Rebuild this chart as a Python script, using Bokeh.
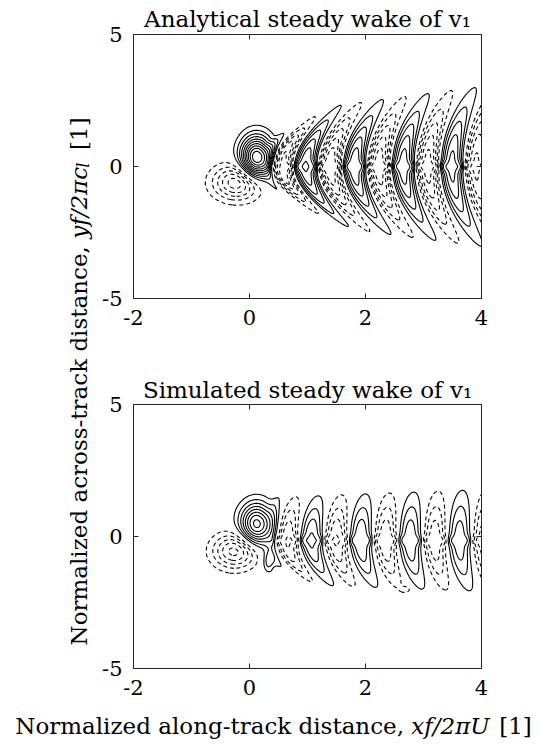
import numpy as np
from bokeh.plotting import figure
from bokeh.models import Range1d, FixedTicker, LinearAxis, Label
from bokeh.layouts import row, column
from bokeh.embed import file_html
from bokeh.resources import INLINE

# ---------------- axes ----------------
x_ticks = [-2, 0, 2, 4]
y_ticks = [-5, 0, 5]
x_tick_labels = ["-2", "0", "2", "4"]
y_tick_labels = ["-5", "0", "5"]
x_limits = [-2, 4]
y_limits = [-5, 5]

panel_titles = ["Analytical steady wake of v\u2081", "Simulated steady wake of v\u2081"]
x_label_parts = ["Normalized along-track distance,", "xf/2πU", "[1]"]
y_label_parts = ["Normalized across-track distance,", "yf/2πc", "l", "[1]"]

# ---------------- contour levels of v1 (normalised) ----------------
pos_levels = [0.1, 0.2, 0.3, 0.4, 0.5, 0.6, 0.7, 0.8, 0.9, 1.0]
neg_levels = [-1.0, -0.9, -0.8, -0.7, -0.6, -0.5, -0.4, -0.3, -0.2, -0.1]

# ---------------- wake description: [analytical, simulated] ----------------
core_amp = [1.12, 0.85]
core_x = [0.12, 0.12]
core_y = [0.32, 0.46]
core_sx = [0.27, 0.28]
core_sy = [0.80, 0.78]
trough_amp = [-0.60, -0.55]
trough_x = [-0.20, -0.25]
trough_y = [-0.60, -0.55]
trough_sx = [0.42, 0.38]
trough_sy = [0.65, 0.65]
wave_amp = [0.64, 0.44]
crest0 = [0.13, 0.22]
wavelength = [0.84, 0.85]
slope_top = [1.7, 3.0]
slope_bot = [1.5, 1.64]
apex_shift = [0.30, 0.30]
wave_y0 = [0.0, -0.15]
env_w0 = [1.35, 1.30]
env_w1 = [0.25, 0.10]
onset = [0.35, 0.40]
decay = [0.05, 0.05]
band_w = [0.20, 0.20]
sharp = [2.0, 2.0]
# secondary patches of the simulated field: (amp, x, y, sx, sy)
patch_amp = [[], [0.28, -0.14]]
patch_x = [[], [0.33, 2.70]]
patch_y = [[], [-0.95, -2.00]]
patch_sx = [[], [0.10, 0.08]]
patch_sy = [[], [0.40, 0.10]]

xs = np.linspace(x_limits[0], x_limits[1], 361)
ys = np.linspace(y_limits[0], y_limits[1], 401)
X, Y = np.meshgrid(xs, ys)


def gauss(a, x0, y0, sx, sy):
    return a * np.exp(-((X - x0) / sx) ** 2 - ((Y - y0) / sy) ** 2)


def wake(i):
    Z = gauss(core_amp[i], core_x[i], core_y[i], core_sx[i], core_sy[i])
    Z = Z + gauss(trough_amp[i], trough_x[i], trough_y[i], trough_sx[i], trough_sy[i])
    for a, x0, y0, sx, sy in zip(patch_amp[i], patch_x[i], patch_y[i],
                                 patch_sx[i], patch_sy[i]):
        Z = Z + gauss(a, x0, y0, sx, sy)
    Yc = Y - wave_y0[i]
    m = np.where(Yc > 0, slope_top[i], slope_bot[i])
    s = apex_shift[i]
    R = np.sqrt(np.clip((X + s) ** 2 - (Yc / m) ** 2, 0, None)) - s
    c = np.cos(2 * np.pi * (R - crest0[i]) / wavelength[i])
    k = sharp[i]
    band = np.exp(-(Yc / band_w[i]) ** 2)
    c = c + band * (np.tanh(k * c) / np.tanh(k) - c)
    xp = np.clip(X, 0, None)
    width = env_w0[i] + env_w1[i] * xp
    env = wave_amp[i] * np.exp(-(Yc / width) ** 2) * np.exp(-decay[i] * xp)
    env = env * 0.5 * (1 + np.tanh((X - onset[i]) / 0.12))
    env = env * np.clip((m * (X + s) - np.abs(Yc)) / 0.8, 0, 1)
    return Z + env * c


FONT = "DejaVu Serif"
LABEL_SIZE = 23
TICK_SIZE = 21
AXIS_COLOR = "#262626"
BASELINE_FIX = 10  # lift applied to alphabetic-baseline labels

# approximate advance widths (em) of the serif face, for joining text runs
EM = {' ': .318, 'A': .722, 'N': .765, 'S': .667, 'U': .76, 'a': .596, 'c': .559,
      'd': .64, 'e': .592, 'f': .37, 'g': .64, 'h': .642, 'i': .321, 'k': .6,
      'l': .321, 'm': .964, 'n': .642, 'o': .603, 'r': .48, 's': .514, 't': .403,
      'u': .642, 'v': .57, 'w': .825, 'x': .57, 'y': .57, 'z': .536, ',': .318,
      '-': .338, '/': .337, '1': .636, '2': .636, 'π': .6, '[': .39, ']': .39}


def text_width(s, size):
    return sum(EM.get(ch, 0.6) for ch in s) * size


def place_text(fig, parts, cx, cy, angle=0.0):
    """parts: (text, style, size, gap_before_em, baseline_drop_px)."""
    widths = [text_width(t, sz) for t, st, sz, g, d in parts]
    gaps = [g * LABEL_SIZE for t, st, sz, g, d in parts]
    total = sum(widths) + sum(gaps)
    along0 = (cx if angle == 0 else cy) - total / 2
    pos = along0 + widths[0]
    for j, (t, st, sz, g, d) in enumerate(parts):
        if j > 0:
            pos += gaps[j]
        align = "right" if j == 0 else "left"
        if angle == 0:
            x, y = pos, cy - d + BASELINE_FIX
        else:
            x, y = cx + d - BASELINE_FIX, pos
        fig.add_layout(Label(x=x, y=y, x_units="screen", y_units="screen", text=t,
                             text_font=FONT, text_font_size=f"{sz}px",
                             text_font_style=st, text_align=align,
                             text_baseline="alphabetic", text_color="black",
                             angle=angle))
        if j > 0:
            pos += widths[j]


def style_axis(ax, ticks, labels, show_labels=True):
    ax.ticker = FixedTicker(ticks=ticks)
    ax.major_label_overrides = {t: l for t, l in zip(ticks, labels)}
    ax.major_tick_in = 5
    ax.major_tick_out = 0
    ax.minor_tick_line_color = None
    ax.axis_line_color = AXIS_COLOR
    ax.major_tick_line_color = AXIS_COLOR
    ax.major_label_text_font = FONT
    ax.major_label_text_color = "black"
    if show_labels:
        ax.major_label_text_font_size = f"{TICK_SIZE}px"
        ax.major_label_standoff = 11
    else:
        ax.major_label_text_font_size = "2px"
        ax.major_label_text_alpha = 0
        ax.major_label_standoff = 0


def blank(width, height):
    f = figure(width=width, height=height, output_backend="svg",
               toolbar_location=None, min_border=0,
               x_range=Range1d(0, 1), y_range=Range1d(0, 1))
    f.axis.visible = False
    f.grid.visible = False
    f.outline_line_color = None
    return f


FRAME_W, FRAME_H = 348, 264
BORDER_L = 38


def panel(i, height, border_top, title_standoff):
    p = figure(width=452, height=height,
               x_range=Range1d(*x_limits), y_range=Range1d(*y_limits),
               output_backend="svg", toolbar_location=None,
               min_border_left=BORDER_L, min_border_right=452 - BORDER_L - FRAME_W,
               min_border_top=border_top,
               min_border_bottom=height - border_top - FRAME_H,
               title=panel_titles[i])
    p.title.text_font = FONT
    p.title.text_font_size = f"{LABEL_SIZE}px"
    p.title.text_font_style = "normal"
    p.title.text_color = "black"
    p.title.align = "center"
    p.title.standoff = title_standoff
    p.grid.visible = False
    p.outline_line_color = AXIS_COLOR
    p.background_fill_color = "white"
    p.border_fill_color = "white"
    Z = wake(i)
    p.contour(xs, ys, Z, levels=pos_levels, line_color="black", line_width=1.1)
    p.contour(xs, ys, Z, levels=neg_levels, line_color="black", line_width=1.1,
              line_dash="4 3")
    style_axis(p.xaxis[0], x_ticks, x_tick_labels)
    style_axis(p.yaxis[0], y_ticks, y_tick_labels)
    top_ax = LinearAxis()
    right_ax = LinearAxis()
    style_axis(top_ax, x_ticks, x_tick_labels, show_labels=False)
    style_axis(right_ax, y_ticks, y_tick_labels, show_labels=False)
    p.add_layout(top_ax, "above")
    p.add_layout(right_ax, "right")
    return p


top = panel(0, 372, 34, 5)
bottom = panel(1, 335, 32, 4)

ylab = blank(95, 707)
sub = round(LABEL_SIZE * 0.7)
place_text(ylab, [(y_label_parts[0], "normal", LABEL_SIZE, 0, 0),
                  (y_label_parts[1], "italic", LABEL_SIZE, 0.318, 0),
                  (y_label_parts[2], "italic", sub, 0.02, 5),
                  (y_label_parts[3], "normal", LABEL_SIZE, 0.55, 0)],
           88, 707 - 395 + 15, angle=np.pi / 2)

xlab = blank(547, 38)
place_text(xlab, [(x_label_parts[0], "normal", LABEL_SIZE, 0, 0),
                  (x_label_parts[1], "italic", LABEL_SIZE, 0.318, 0),
                  (x_label_parts[2], "normal", LABEL_SIZE, 0.55, 0)],
           274, 10)

layout = column(row(ylab, column(top, bottom)), xlab)

open("out.html", "w").write(file_html(layout, INLINE))
